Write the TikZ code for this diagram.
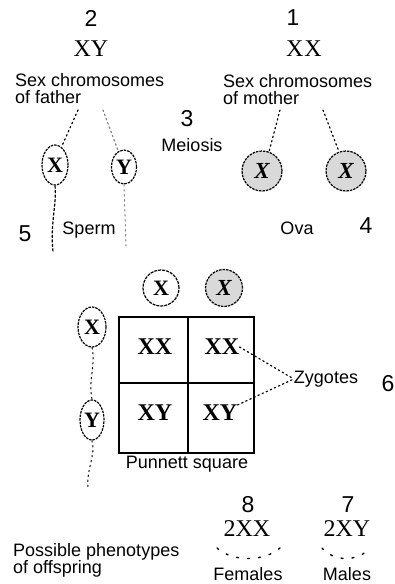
\documentclass[tikz,border=0pt]{standalone}
\usepackage{fontspec}
\setmainfont{Liberation Sans}
\newfontfamily\serifface{Liberation Serif}
\usetikzlibrary{shapes.geometric}
\begin{document}
\begin{tikzpicture}[x=1pt,y=-1pt,
  lbl/.style={font=\fontsize{18}{17}\selectfont, align=left, inner sep=0pt, anchor=north west},
  word/.style={font=\fontsize{18}{17}\selectfont, inner sep=0pt},
  num/.style={font=\fontsize{23}{23}\selectfont, inner sep=0pt},
  chrom/.style={font=\serifface\fontsize{24}{24}\selectfont, inner sep=0pt},
  cellsym/.style={font=\serifface\bfseries\fontsize{24}{24}\selectfont, inner sep=0pt},
  cellbox/.style={draw, line width=1.4pt, inner sep=0pt},
  sperm/.style={ellipse, draw, line width=1.2pt, dash pattern=on 2.5pt off 1pt,
    inner sep=0pt, font=\serifface\bfseries\fontsize{22}{22}\selectfont},
  ovum/.style={circle, draw, line width=1.2pt, dash pattern=on 2.5pt off 1pt,
    fill=gray!30, minimum size=40pt, inner sep=0pt,
    font=\serifface\bfseries\itshape\fontsize{23}{23}\selectfont},
  dots/.style={line width=1.2pt, dash pattern=on 1.5pt off 3pt, line cap=round},
  tail/.style={line width=1.2pt, dash pattern=on 3pt off 1.5pt},
  lighttail/.style={line width=1pt, gray, dash pattern=on 1.5pt off 3.5pt, line cap=round},
]
\useasboundingbox (0,0) rectangle (395,584);

% parents
\node[num] (n2) at (91,18) {2};
\node[chrom] (fxy) at (91,49) {XY};
\node[lbl] (father) at (15,73) {Sex chromosomes\\of father};
\node[num] (n1) at (293,18) {1};
\node[chrom] (mxx) at (304,49) {X\kern1pt X};
\node[lbl] (mother) at (223,74) {Sex chromosomes\\of mother};

% meiosis
\node[num] (n3) at (187,119) {3};
\node[word] (meiosis) at (192,145) {Meiosis};

% gametes
\node[sperm, minimum width=26pt, minimum height=40pt] (fx) at (55,165) {X};
\node[sperm, minimum width=25pt, minimum height=34pt] (fy) at (124,167) {Y};
\node[ovum] (ox1) at (262,171) {X};
\node[ovum] (ox2) at (346,171) {X};

\coordinate (fa1) at (78,110);
\coordinate (fa2) at (103,110);
\coordinate (ma1) at (280,110);
\coordinate (ma2) at (323,110);
\draw[dots] (fa1) -- (fx.70);
\draw[dots, gray] (fa2) -- (fy.110);
\draw[dots] (ma1) -- (ox1.70);
\draw[dots] (ma2) -- (ox2.110);

\coordinate (fxend) at (53,252);
\coordinate (fyend) at (126,246);
\draw[tail] (fx.south) .. controls (57,205) and (50,222) .. (fxend);
\draw[lighttail] (fy.south) -- (fyend);

\node[num] (n5) at (25,234) {5};
\node[word] (spermlbl) at (89,230) {Sperm};
\node[word] (ovalbl) at (297,228) {Ova};
\node[num] (n4) at (366,226) {4};

% Punnett square
\node[circle, draw, line width=1.2pt, dash pattern=on 3pt off 1pt, minimum size=36pt, inner sep=0pt,
  font=\serifface\bfseries\fontsize{22}{22}\selectfont] (pc1) at (161,288) {X};
\node[ovum, minimum size=37pt] (pc2) at (224,288) {X};

\node[sperm, minimum width=28pt, minimum height=40pt] (ps1) at (92,327) {X};
\node[sperm, minimum width=24pt, minimum height=40pt] (ps2) at (92,420) {Y};
\coordinate (psend) at (88,488);
\draw[lighttail, black] (ps1.south) .. controls (96,365) and (88,380) .. (ps2.north);
\draw[lighttail, black] (ps2.south) .. controls (96,455) and (86,470) .. (psend);

\node[cellbox, minimum width=69pt, minimum height=66pt] (c11) at (153.5,350) {};
\node[cellbox, minimum width=66pt, minimum height=66pt] (c12) at (221,350) {};
\node[cellbox, minimum width=69pt, minimum height=70pt] (c21) at (153.5,418) {};
\node[cellbox, minimum width=66pt, minimum height=70pt] (c22) at (221,418) {};
\node[cellsym] (t11) at (155,347) {XX};
\node[cellsym] (t12) at (222,347) {XX};
\node[cellsym] (t21) at (155,413) {XY};
\node[cellsym] (t22) at (220,413) {XY};
\node[word] (punnett) at (187,464) {Punnett square};

\node[word] (zyg) at (326,379) {Zygotes};
\node[num] (n6) at (388,384) {6};
\draw[dots] (t12.east) -- (zyg.west);
\draw[dots] (t22.north east) -- (zyg.west);

% offspring
\node[lbl] (possible) at (13,543) {Possible phenotypes\\of offspring};
\node[num] (n8) at (248,505) {8};
\node[chrom] (fem) at (247,529) {2XX};
\node[num] (n7) at (348,505) {7};
\node[chrom] (mal) at (347,529) {2XY};
\coordinate (fb1) at (217,548);
\coordinate (fb2) at (280,548);
\coordinate (mb1) at (322,548);
\coordinate (mb2) at (370,548);
\draw[line width=1.4pt, dash pattern=on 2pt off 9pt, line cap=round]
  (fb1) .. controls (232,562) and (264,562) .. (fb2);
\draw[line width=1.4pt, dash pattern=on 2pt off 9pt, line cap=round]
  (mb1) .. controls (334,562) and (358,562) .. (mb2);
\node[word] (females) at (248,574) {Females};
\node[word] (males) at (347,574) {Males};
\end{tikzpicture}
\end{document}
